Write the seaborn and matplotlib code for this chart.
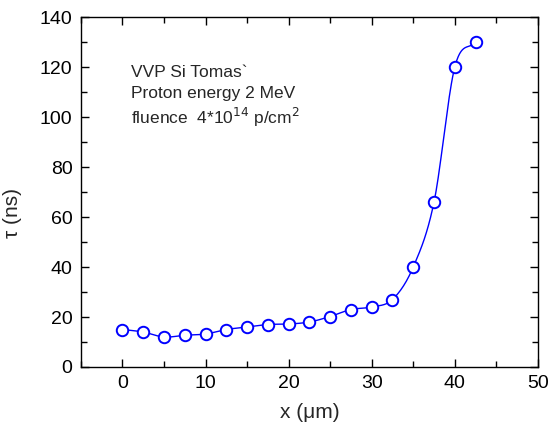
import numpy as np
import pandas as pd
import matplotlib
matplotlib.use("Agg")
import matplotlib.pyplot as plt
from matplotlib.ticker import MultipleLocator
import seaborn as sns

# Carrier lifetime vs depth
depth_um = [0, 2.5, 5, 7.5, 10, 12.5, 15, 17.5, 20, 22.5, 25, 27.5, 30, 32.5,
            35, 37.5, 40, 42.5]
tau_ns = [15, 14, 12, 12.7, 13.2, 15, 16, 17, 17.2, 18, 20.2, 23, 24, 27,
          40, 66, 120, 130]

x_ticks = [0, 10, 20, 30, 40, 50]
y_ticks = [0, 20, 40, 60, 80, 100, 120, 140]

sns.set_theme(style="ticks")
plt.rcParams["font.family"] = ["Liberation Sans", "DejaVu Sans"]

df = pd.DataFrame({"x": depth_um, "tau": tau_ns})


def catmull_rom(xs, ys, n=30):
    """Smooth connecting curve through the points (uniform Catmull-Rom)."""
    xs = np.asarray(xs, float)
    ys = np.asarray(ys, float)
    px = np.concatenate([[2 * xs[0] - xs[1]], xs, [2 * xs[-1] - xs[-2]]])
    py = np.concatenate([[2 * ys[0] - ys[1]], ys, [2 * ys[-1] - ys[-2]]])
    out_x, out_y = [], []
    t = np.linspace(0, 1, n, endpoint=False)
    for i in range(1, len(px) - 2):
        for arr, out in ((px, out_x), (py, out_y)):
            p0, p1, p2, p3 = arr[i - 1], arr[i], arr[i + 1], arr[i + 2]
            out.extend(0.5 * ((2 * p1) + (-p0 + p2) * t
                              + (2 * p0 - 5 * p1 + 4 * p2 - p3) * t ** 2
                              + (-p0 + 3 * p1 - 3 * p2 + p3) * t ** 3))
    out_x.append(xs[-1])
    out_y.append(ys[-1])
    return np.array(out_x), np.array(out_y)


fig = plt.figure(figsize=(5.5, 4.26), dpi=100)
ax = fig.add_axes([0.147, 0.1385, 0.831, 0.8215])

cx, cy = catmull_rom(df["x"], df["tau"])
curve = pd.DataFrame({"x": cx, "tau": cy})
sns.lineplot(data=curve, x="x", y="tau", ax=ax, color="#0000ff", lw=1.0,
             sort=False, estimator=None)
sns.scatterplot(data=df, x="x", y="tau", ax=ax, s=68, facecolor="white",
                edgecolor="#0000ff", linewidth=1.4, zorder=3)

ax.set_xlim(-5, 50)
ax.set_ylim(0, 140)
ax.set_xticks(x_ticks)
ax.set_yticks(y_ticks)
ax.xaxis.set_minor_locator(MultipleLocator(5))
ax.yaxis.set_minor_locator(MultipleLocator(10))
ax.tick_params(which="both", direction="in", top=True, right=True,
               labelsize=14, colors="black", width=1.0)
ax.tick_params(which="major", length=6, pad=6)
ax.tick_params(which="minor", length=4)
for s in ax.spines.values():
    s.set_linewidth(1.0)
    s.set_color("black")

ax.set_xlabel("x (\u03bcm)", fontsize=15, labelpad=8)
ax.set_ylabel("\u03c4 (ns)", fontsize=15)
ax.yaxis.set_label_coords(-0.129, 0.44)

ax.text(0.109, 0.829, "VVP Si Tomas`", transform=ax.transAxes, fontsize=12.5)
ax.text(0.109, 0.769, "Proton energy 2 MeV", transform=ax.transAxes,
        fontsize=12.5)
ax.text(0.109, 0.694, r"fluence  4*10$^{14}$ p/cm$^{2}$",
        transform=ax.transAxes, fontsize=12.5)

fig.savefig("out.png", dpi=100)
